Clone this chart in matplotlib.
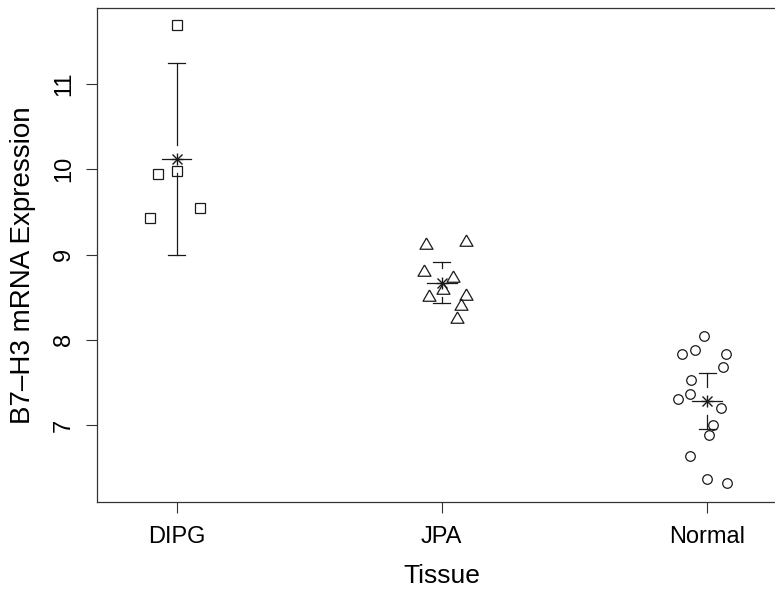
import matplotlib
matplotlib.use("Agg")
import matplotlib.pyplot as plt
import numpy as np

plt.rcParams['font.family'] = ['Liberation Sans', 'DejaVu Sans']

# data
tissues = ['DIPG', 'JPA', 'Normal']

dipg_y = [11.69, 9.95, 9.98, 9.55, 9.43]
dipg_jit = [0.00, -0.07, 0.00, 0.09, -0.10]

jpa_y = [9.11, 9.15, 8.80, 8.73, 8.59, 8.50, 8.52, 8.40, 8.25]
jpa_jit = [-0.06, 0.09, -0.067, 0.043, 0.005, -0.05, 0.09, 0.072, 0.056]

normal_y = [8.05, 7.84, 7.88, 7.84, 7.68, 7.53, 7.37, 7.31, 7.20, 7.00,
            6.89, 6.64, 6.37, 6.32]
normal_jit = [-0.011, -0.093, -0.044, 0.07, 0.059, -0.061, -0.064, -0.108,
              0.053, 0.024, 0.009, -0.064, 0.001, 0.076]

# 95% CI half widths read from the caps
ci_half = [1.13, 0.235, 0.33]

groups = [dipg_y, jpa_y, normal_y]
jitters = [dipg_jit, jpa_jit, normal_jit]

# R-like open triangle (centroid centred)
tri = [(0, 1), (-0.866, -0.5), (0.866, -0.5), (0, 1)]
markers = ['s', tri, 'o']
msizes = [7.2, 10.8, 6.9]

fig = plt.figure(figsize=(7.75, 5.9), dpi=100)
ax = fig.add_axes([97 / 775, 1 - 502 / 590, (786.6 - 97) / 775, (502 - 8) / 590])

lc = '#1a1a1a'
gap = 0.165    # gap round the mean in the CI line
cap = 0.032
mline = 0.056

for i, (ys, jit) in enumerate(zip(groups, jitters)):
    xpos = i + 1
    ax.plot(xpos + np.array(jit), ys, linestyle='none', marker=markers[i],
            ms=msizes[i], mfc='none', mec=lc, mew=0.9)
    m = np.mean(ys)
    lo, hi = m - ci_half[i], m + ci_half[i]
    if hi - m > gap:
        ax.plot([xpos, xpos], [m + gap, hi], color=lc, lw=0.9)
        ax.plot([xpos, xpos], [lo, m - gap], color=lc, lw=0.9)
    ax.plot([xpos - cap, xpos + cap], [hi, hi], color=lc, lw=0.9)
    ax.plot([xpos - cap, xpos + cap], [lo, lo], color=lc, lw=0.9)
    ax.plot([xpos - mline, xpos + mline], [m, m], color=lc, lw=0.9)
    ax.plot([xpos], [m], marker='+', ms=9, mew=1.0, color=lc)
    ax.plot([xpos], [m], marker='x', ms=6.5, mew=1.0, color=lc)

ax.set_xlim(0.7, 3.3)
ax.set_ylim(6.10, 11.89)
ax.set_xticks([1, 2, 3])
ax.set_xticklabels(tissues)
ax.set_yticks([7, 8, 9, 10, 11])
ax.set_yticklabels(['7', '8', '9', '10', '11'], rotation=90, va='center')

ax.tick_params(axis='both', direction='out', length=8, width=0.8,
               color='#333333', labelsize=17)
ax.tick_params(axis='x', pad=9)
ax.tick_params(axis='y', pad=8)
for s in ax.spines.values():
    s.set_linewidth(0.9)
    s.set_color('#333333')

ax.set_xlabel('Tissue', fontsize=19, labelpad=12)
ax.set_ylabel('B7\u2013H3 mRNA Expression', fontsize=20)
ax.yaxis.set_label_coords(-0.089, 0.479)

fig.savefig('out.png', dpi=100)
